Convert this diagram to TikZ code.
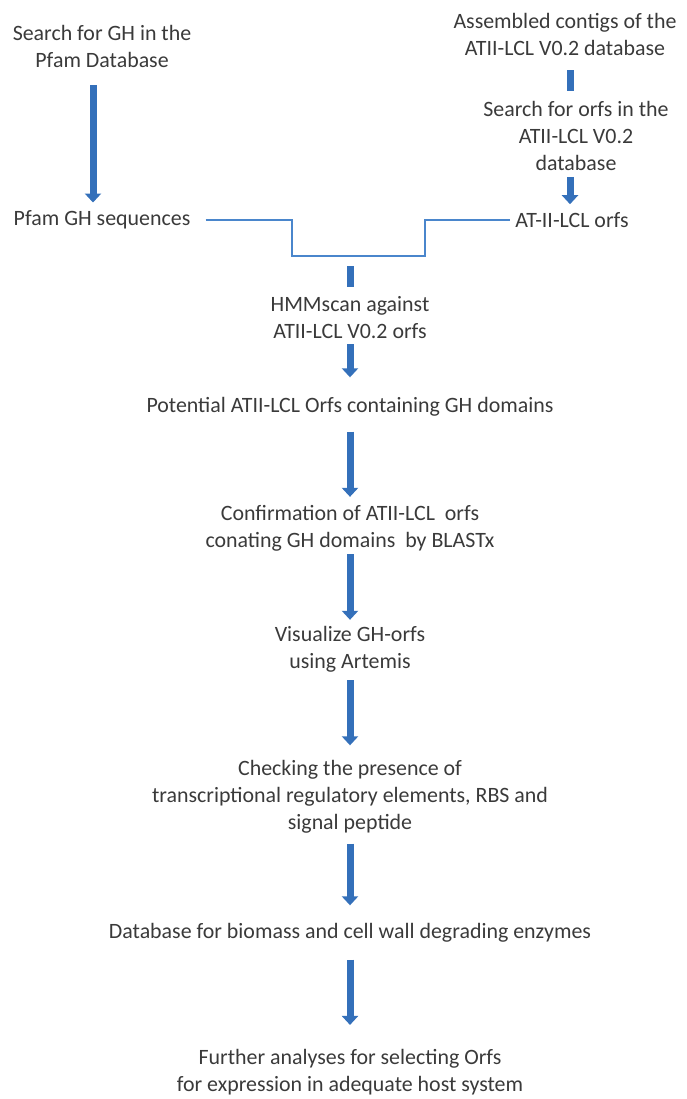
\documentclass[tikz,border=0pt]{standalone}
\usepackage{fontspec}
\setmainfont{Carlito}
\usepackage{xcolor}
\usepackage{tikz}
\usetikzlibrary{arrows.meta,positioning}
\definecolor{flowblue}{HTML}{3470BA}
\definecolor{linkblue}{HTML}{4A86CC}
\definecolor{textgray}{HTML}{3A3A3A}
\tikzstyle{stage}=[inner sep=0pt,align=center,text=textgray,font=\fontsize{21.9}{27}\selectfont]
\tikzstyle{flow}=[draw=flowblue,line width=7pt,-{Triangle[width=16pt,length=9pt]}]
\tikzstyle{stub}=[draw=flowblue,line width=7pt]
\tikzstyle{link}=[draw=linkblue,line width=2.5pt]

\begin{document}
\begin{tikzpicture}[x=1pt,y=-1pt]
    \useasboundingbox (0,0) rectangle (687,1099);
    % left branch
    \node[stage] (srch) at (102,46) {Search for GH in the\\Pfam Database};
    \node[stage] (pfam) at (102,220) {Pfam GH sequences};
    % right branch
    \node[stage] (asm) at (565,34) {Assembled contigs of the\\ATII-LCL V0.2 database};
    \node[stage] (orfsrch) at (576,136) {Search for orfs in the\\ATII-LCL V0.2\\database};
    \node[stage] (atorfs) at (572,220) {AT-II-LCL orfs};
    \coordinate (join) at (350,256);
    % main column
    \node[stage] (hmm) at (350,318) {HMMscan against\\ATII-LCL V0.2 orfs};
    \node[stage] (pot) at (350,407) {Potential ATII-LCL Orfs containing GH domains};
    \node[stage] (conf) at (350,528) {Confirmation of ATII-LCL\ \ orfs\\conating GH domains\ \ by BLASTx};
    \node[stage] (vis) at (350,649) {Visualize GH-orfs\\using Artemis};
    \node[stage] (chk) at (350,797) {Checking the presence of\\transcriptional regulatory elements, RBS and\\signal peptide};
    \node[stage] (db) at (350,933) {Database for biomass and cell wall degrading enzymes};
    \node[stage] (fur) at (350,1072) {Further analyses for selecting Orfs\\for expression in adequate host system};

    \draw[flow,shorten <=18pt,shorten >=8pt] ([xshift=-9pt]srch.south) -- ([xshift=-9pt]srch.south|-pfam.north);
    \draw[stub,shorten <=15pt,shorten >=10pt] ([xshift=-2pt]asm.south-|atorfs) -- ([xshift=-2pt]orfsrch.north-|atorfs);
    \draw[flow,shorten <=6pt,shorten >=8pt] ([xshift=-2pt]orfsrch.south-|atorfs) -- ([xshift=-2pt]atorfs.north);
    \draw[link] ([xshift=15pt]pfam.east) -| ([xshift=-58pt]join) -- ([xshift=75pt]join) |- ([xshift=-5pt]atorfs.west);
    \draw[stub,shorten <=10pt,shorten >=10pt] (join) -- (hmm);
    \draw[flow,shorten <=5pt,shorten >=20pt] (hmm) -- (pot);
    \draw[flow,shorten <=15pt,shorten >=8pt] (pot) -- (conf);
    \draw[flow,shorten <=3pt,shorten >=6pt] (conf) -- (vis);
    \draw[flow,shorten <=8pt,shorten >=15pt] (vis) -- (chk);
    \draw[flow,shorten <=10pt,shorten >=18pt] (chk) -- (db);
    \draw[flow,shorten <=17pt,shorten >=24pt] (db) -- (fur);
  \end{tikzpicture}
\end{document}
